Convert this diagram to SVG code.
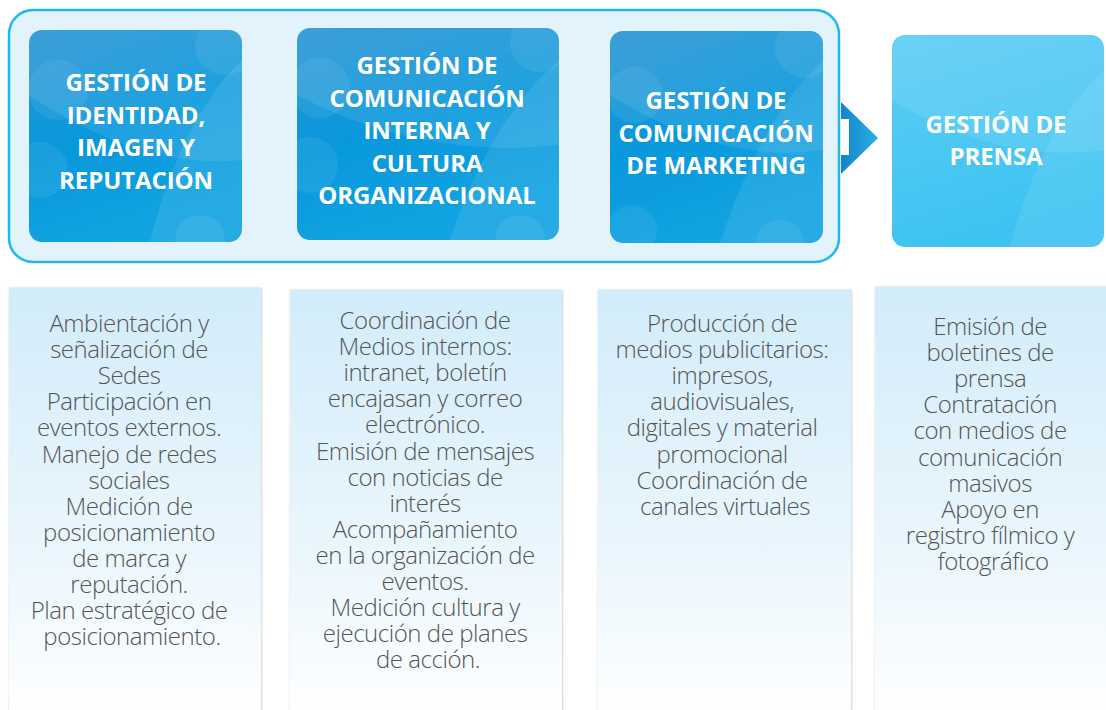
<svg xmlns="http://www.w3.org/2000/svg" width="1106" height="710" viewBox="0 0 1106 710">
<defs>
<linearGradient id="gDark" x1="0" y1="0" x2="0.35" y2="1">
<stop offset="0" stop-color="#2A95D4"/>
<stop offset="0.55" stop-color="#0898DC"/>
<stop offset="1" stop-color="#12A3E2"/>
</linearGradient>
<linearGradient id="gLight" x1="0" y1="0" x2="0.3" y2="1">
<stop offset="0" stop-color="#5DCDF5"/>
<stop offset="1" stop-color="#3DC3F1"/>
</linearGradient>
<linearGradient id="gArrow" x1="0" y1="0" x2="1" y2="0">
<stop offset="0" stop-color="#1284CB"/>
<stop offset="1" stop-color="#2AAFE6"/>
</linearGradient>
<linearGradient id="gPanel" x1="0" y1="0" x2="0" y2="1">
<stop offset="0" stop-color="#D2ECFA"/>
<stop offset="0.6" stop-color="#EAF6FD"/>
<stop offset="1" stop-color="#FFFFFF"/>
</linearGradient>
<filter id="shadow" x="-5%" y="-5%" width="110%" height="110%">
<feDropShadow dx="0.5" dy="0" stdDeviation="1.2" flood-color="#777" flood-opacity="0.45"/>
</filter>
<clipPath id="c1"><rect x="29" y="30" width="213" height="212" rx="13"/></clipPath>
<clipPath id="c2"><rect x="297" y="28" width="262" height="212" rx="13"/></clipPath>
<clipPath id="c3"><rect x="610" y="31" width="213" height="212" rx="13"/></clipPath>
<clipPath id="c4"><rect x="892" y="35" width="212" height="212" rx="13"/></clipPath>
</defs>
<style>
.title{font-family:"Open Sans","Liberation Sans",sans-serif;font-weight:700;font-size:24px;fill:#FFFFFF;text-anchor:middle;letter-spacing:-0.1px}
.body{font-family:"Open Sans","Liberation Sans",sans-serif;font-weight:300;font-size:24px;fill:#555555;text-anchor:middle;letter-spacing:-0.45px}
.deco{fill:#FFFFFF;fill-opacity:0.07}
.wave{fill:#FFFFFF;fill-opacity:0.09}
.panel{fill:url(#gPanel);filter:url(#shadow)}
</style>

<g id="container">
<rect x="9" y="10" width="830" height="252" rx="24" fill="#E2F3FB" stroke="#1DB8EC" stroke-width="2.5"/>
</g>

<g id="connectors">
<path d="M841,102 L878,138 L841,174 Z" fill="url(#gArrow)"/>
<rect x="841" y="119" width="8" height="36" fill="#FFFFFF"/>
</g>

<g id="node-identidad">
<rect x="29" y="30" width="213" height="212" rx="13" fill="url(#gDark)"/>
<g clip-path="url(#c1)">
<path class="wave" d="M29,95 Q140,170 242,160 L242,30 L29,30 Z"/>
<path class="wave" d="M150,242 Q180,120 242,60 L242,242 Z"/>
<circle class="deco" cx="58" cy="90" r="30"/>
<circle class="deco" cx="40" cy="170" r="28"/>
<circle class="deco" cx="225" cy="45" r="30"/>
<circle class="deco" cx="200" cy="240" r="25"/>
</g>
<text class="title" x="136" y="91">GESTIÓN DE</text>
<text class="title" x="136" y="123.5">IDENTIDAD,</text>
<text class="title" x="136" y="156">IMAGEN Y</text>
<text class="title" x="136" y="188.5">REPUTACIÓN</text>
</g>

<g id="node-interna">
<rect x="297" y="28" width="262" height="212" rx="13" fill="url(#gDark)"/>
<g clip-path="url(#c2)">
<path class="wave" d="M297,95 Q420,160 559,145 L559,28 L297,28 Z"/>
<path class="wave" d="M450,240 Q490,120 559,60 L559,240 Z"/>
<circle class="deco" cx="320" cy="88" r="30"/>
<circle class="deco" cx="310" cy="165" r="28"/>
<circle class="deco" cx="540" cy="42" r="30"/>
<circle class="deco" cx="520" cy="240" r="25"/>
</g>
<text class="title" x="427" y="74">GESTIÓN DE</text>
<text class="title" x="427" y="107">COMUNICACIÓN</text>
<text class="title" x="427" y="139">INTERNA Y</text>
<text class="title" x="427" y="172">CULTURA</text>
<text class="title" x="427" y="204">ORGANIZACIONAL</text>
</g>

<g id="node-marketing">
<rect x="610" y="31" width="213" height="212" rx="13" fill="url(#gDark)"/>
<g clip-path="url(#c3)">
<path class="wave" d="M610,95 Q720,165 823,150 L823,31 L610,31 Z"/>
<path class="wave" d="M720,243 Q760,120 823,60 L823,243 Z"/>
<circle class="deco" cx="635" cy="95" r="28"/>
<circle class="deco" cx="632" cy="230" r="25"/>
<circle class="deco" cx="805" cy="48" r="30"/>
<circle class="deco" cx="780" cy="245" r="25"/>
</g>
<text class="title" x="716" y="109">GESTIÓN DE</text>
<text class="title" x="716" y="142">COMUNICACIÓN</text>
<text class="title" x="716" y="174">DE MARKETING</text>
</g>

<g id="node-prensa">
<rect x="892" y="35" width="212" height="212" rx="13" fill="url(#gLight)"/>
<g clip-path="url(#c4)">
<path class="wave" d="M892,100 Q1000,165 1104,150 L1104,35 L892,35 Z"/>
<path class="wave" d="M1010,247 Q1040,130 1104,70 L1104,247 Z"/>
</g>
<text class="title" x="996" y="133">GESTIÓN DE</text>
<text class="title" x="996" y="165">PRENSA</text>
</g>

<g id="panel-identidad">
<rect class="panel" x="9" y="288" width="252" height="430"/>
<text class="body" x="132">
<tspan x="132" y="332">Ambientación y</tspan>
<tspan x="132" y="358.1">señalización de</tspan>
<tspan x="132" y="384.2">Sedes</tspan>
<tspan x="132" y="410.3">Participación en</tspan>
<tspan x="132" y="436.4">eventos externos.</tspan>
<tspan x="132" y="462.5">Manejo de redes</tspan>
<tspan x="132" y="488.6">sociales</tspan>
<tspan x="132" y="514.7">Medición de</tspan>
<tspan x="132" y="540.8">posicionamiento</tspan>
<tspan x="132" y="566.9">de marca y</tspan>
<tspan x="132" y="593">reputación.</tspan>
<tspan x="132" y="619.1">Plan estratégico de</tspan>
<tspan x="132" y="645.2">posicionamiento.</tspan>
</text>
</g>

<g id="panel-interna">
<rect class="panel" x="290" y="290" width="272" height="430"/>
<text class="body" x="428">
<tspan x="428" y="329">Coordinación de</tspan>
<tspan x="428" y="355.1">Medios internos:</tspan>
<tspan x="428" y="381.2">intranet, boletín</tspan>
<tspan x="428" y="407.3">encajasan y correo</tspan>
<tspan x="428" y="433.4">electrónico.</tspan>
<tspan x="428" y="459.5">Emisión de mensajes</tspan>
<tspan x="428" y="485.6">con noticias de</tspan>
<tspan x="428" y="511.7">interés</tspan>
<tspan x="428" y="537.8">Acompañamiento</tspan>
<tspan x="428" y="563.9">en la organización de</tspan>
<tspan x="428" y="590">eventos.</tspan>
<tspan x="428" y="616.1">Medición cultura y</tspan>
<tspan x="428" y="642.2">ejecución de planes</tspan>
<tspan x="428" y="668.3">de acción.</tspan>
</text>
</g>

<g id="panel-marketing">
<rect class="panel" x="598" y="290" width="253" height="430"/>
<text class="body" x="725">
<tspan x="725" y="332">Producción de</tspan>
<tspan x="725" y="358.1">medios publicitarios:</tspan>
<tspan x="725" y="384.2">impresos,</tspan>
<tspan x="725" y="410.3">audiovisuales,</tspan>
<tspan x="725" y="436.4">digitales y material</tspan>
<tspan x="725" y="462.5">promocional</tspan>
<tspan x="725" y="488.6">Coordinación de</tspan>
<tspan x="725" y="514.7">canales virtuales</tspan>
</text>
</g>

<g id="panel-prensa">
<rect class="panel" x="875" y="287" width="240" height="430"/>
<text class="body" x="993">
<tspan x="993" y="335">Emisión de</tspan>
<tspan x="993" y="361.1">boletines de</tspan>
<tspan x="993" y="387.2">prensa</tspan>
<tspan x="993" y="413.3">Contratación</tspan>
<tspan x="993" y="439.4">con medios de</tspan>
<tspan x="993" y="465.5">comunicación</tspan>
<tspan x="993" y="491.6">masivos</tspan>
<tspan x="993" y="517.7">Apoyo en</tspan>
<tspan x="993" y="543.8">registro fílmico y</tspan>
<tspan x="993" y="569.9">fotográfico</tspan>
</text>
</g>
</svg>
